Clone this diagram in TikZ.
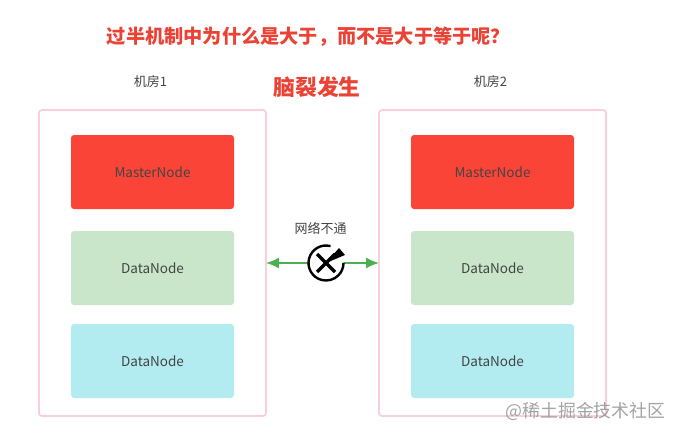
\documentclass[tikz,border=0pt]{standalone}
\usepackage{fontspec}
\setmainfont{Noto Sans CJK SC}
\usetikzlibrary{arrows.meta}

\begin{document}
\begin{tikzpicture}
[x=1pt,y=-1pt,
  roomDecorate/.style={shape=rectangle,draw=roomPink,line width=1.8pt,rounded corners=3pt,
    minimum width=227pt,minimum height=306pt,inner sep=0pt},
  boxDecorate/.style={shape=rectangle,rounded corners=3pt,minimum width=163pt,
    minimum height=74pt,inner sep=0pt,text=textGrey,font=\fontsize{13.5}{15}\selectfont},
  labelDecorate/.style={text=textGrey,inner sep=0pt,font=\fontsize{13}{15}\selectfont},
  titleDecorate/.style={text=titleRed,inner sep=0pt,font=\bfseries\fontsize{19.2}{22}\selectfont}]
\definecolor{roomPink}{HTML}{F9CFD9}
\definecolor{textGrey}{HTML}{444444}
\definecolor{titleRed}{HTML}{EA4335}
\definecolor{masterRed}{HTML}{FA4437}
\definecolor{dataGreen}{HTML}{C9E6CA}
\definecolor{dataCyan}{HTML}{B3ECF0}
\definecolor{linkGreen}{HTML}{4CAF50}
\useasboundingbox (0,0) rectangle (693,439);
%% titles
\node (title) at (308.5,36.5) [titleDecorate] {过半机制中为什么是大于，而不是大于等于呢？};
\node (split) at (317,87.5) [titleDecorate,font=\bfseries\fontsize{21.8}{25}\selectfont] {脑裂发生};
%% rooms and their boxes
\foreach \roomname/\x/\roomtext in {roomA/152.5/机房1, roomB/492.5/机房2}
{
  \node (\roomname) at (\x,263) [roomDecorate] {};
  \node (\roomname label) at (\x-2,82) [labelDecorate] {\roomtext};
  \node (\roomname master) at (\x,172) [boxDecorate,fill=masterRed] {MasterNode};
  \node (\roomname data1) at (\x,268) [boxDecorate,fill=dataGreen] {DataNode};
  \node (\roomname data2) at (\x,361) [boxDecorate,fill=dataCyan] {DataNode};
}
%% link between rooms
\draw[{Latex[length=13pt,width=11pt]}-{Latex[length=13pt,width=11pt]},draw=linkGreen,line width=2pt,shorten <=-1pt,shorten >=-1pt] (roomA.east) -- (roomB.west);
\node (linktext) at (320.5,228) [labelDecorate] {网络不通};
%% broken link mark
\node (mark) at (326,263) [shape=circle,fill=white,minimum size=35pt,inner sep=0pt] {};
\draw[line width=2.4pt] (mark.center) ++(-75:17.5) arc (-75:-360:17.5);
\draw[line width=3.4pt] (317,254) -- (335,272) (335,254) -- (317,272);
\fill (326,263) -- (339,248) -- (345,255) -- cycle;
%% watermark
\node (mark text) at (585.5,411) [text=black!45,inner sep=0pt,opacity=0.8,font=\fontsize{17.9}{20}\selectfont] {@稀土掘金技术社区};
\end{tikzpicture}
\end{document}
